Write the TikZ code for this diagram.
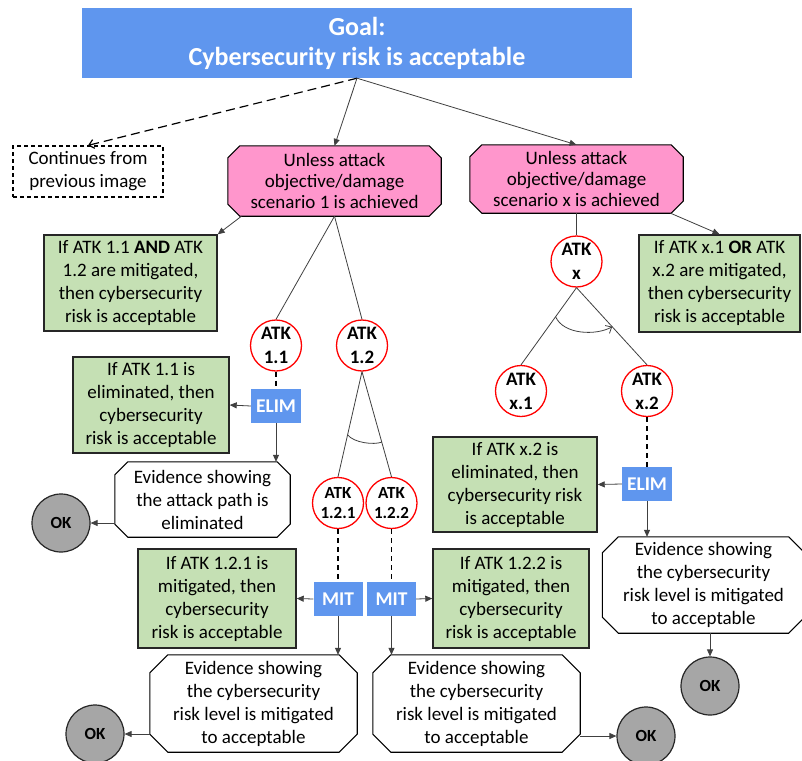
\documentclass[tikz,border=0pt]{standalone}
\usepackage{fontspec}
\setmainfont{Carlito}
\usetikzlibrary{arrows.meta,calc,backgrounds}

\definecolor{goalblue}{HTML}{5F96EE}
\definecolor{pinkfill}{HTML}{FF96CC}
\definecolor{greenfill}{HTML}{C5E0B4}
\definecolor{okgray}{HTML}{A6A6A6}
\definecolor{linegray}{HTML}{404040}

% octagon outline around a named rectangular node: [style]{node}{corner cut}
\newcommand\octframe[3][]{%
  \path[#1] ([xshift=#3]#2.north west) -- ([xshift=-#3]#2.north east)
    -- ([yshift=-#3]#2.north east) -- ([yshift=#3]#2.south east)
    -- ([xshift=-#3]#2.south east) -- ([xshift=#3]#2.south west)
    -- ([yshift=#3]#2.south west) -- ([yshift=-#3]#2.north west) -- cycle;}

\begin{document}
\begin{tikzpicture}[x=1pt,y=-1pt,
  every node/.style={inner sep=0pt, align=center, font=\fontsize{19}{23}\selectfont},
  goalbox/.style={rectangle, fill=goalblue, text=white,
    font=\bfseries\fontsize{26}{30}\selectfont, minimum width=550pt, minimum height=70pt},
  contbox/.style={rectangle, draw=black, line width=1.2pt, dash pattern=on 4pt off 3pt},
  scenario/.style={rectangle, font=\fontsize{19}{21}\selectfont},
  scenarioframe/.style={draw=black, line width=1.1pt, fill=pinkfill},
  rulebox/.style={rectangle, draw=black!85, line width=1.4pt, fill=greenfill},
  evidence/.style={rectangle},
  evidenceframe/.style={draw=black, line width=1.1pt, fill=white},
  atk/.style={circle, draw=red, line width=1.3pt, fill=white, minimum size=51pt,
    font=\bfseries\fontsize{19}{24}\selectfont},
  atksmall/.style={atk, font=\bfseries\fontsize{17}{20}\selectfont},
  tag/.style={rectangle, fill=goalblue, text=white,
    font=\bfseries\fontsize{19.5}{20}\selectfont, minimum height=34pt},
  okdot/.style={circle, draw=black!85, line width=1.2pt, fill=okgray, minimum size=58pt,
    font=\bfseries\fontsize{17}{20}\selectfont},
  link/.style={draw=linegray, line width=0.8pt},
  arr/.style={link, -{Triangle[length=7pt,width=6pt]}},
  dashlink/.style={draw=black, line width=1.2pt, dash pattern=on 5pt off 4pt},
  openarr/.style={-{Straight Barb[length=5pt,width=9pt]}}
]
\path[use as bounding box] (0,0) rectangle (802,760);

% top goal and the two scenarios
\node[goalbox] (goal) at (357,43) {Goal:\\Cybersecurity risk is acceptable};
\node[contbox, minimum width=150pt, minimum height=51pt] (cont) at (88,171.5)
  {Continues from\\previous image};
\node[scenario, minimum width=213pt, minimum height=70pt] (pink1) at (334.5,181)
  {Unless attack\\objective/damage\\scenario 1 is achieved};
\node[scenario, minimum width=213pt, minimum height=68pt] (pinkx) at (576.5,179)
  {Unless attack\\objective/damage\\scenario x is achieved};

% rule boxes
\node[rulebox, minimum width=173pt, minimum height=96pt] (green1) at (130.5,283)
  {If ATK 1.1 \textbf{AND} ATK\\1.2 are mitigated,\\then cybersecurity\\risk is acceptable};
\node[rulebox, minimum width=161pt, minimum height=97pt] (greenx) at (719.5,283.5)
  {If ATK x.1 \textbf{OR} ATK\\x.2 are mitigated,\\then cybersecurity\\risk is acceptable};
\node[rulebox, minimum width=156pt, minimum height=96pt] (green2) at (151,405)
  {If ATK 1.1 is\\eliminated, then\\cybersecurity\\risk is acceptable};
\node[rulebox, minimum width=164pt, minimum height=95pt] (greenx2) at (515,484.5)
  {If ATK x.2 is\\eliminated, then\\cybersecurity risk\\is acceptable};
\node[rulebox, minimum width=158pt, minimum height=99pt] (green121) at (217,598.5)
  {If ATK 1.2.1 is\\mitigated, then\\cybersecurity\\risk is acceptable};
\node[rulebox, minimum width=156pt, minimum height=99pt] (green122) at (511,598.5)
  {If ATK 1.2.2 is\\mitigated, then\\cybersecurity\\risk is acceptable};

% attack nodes
\node[atk] (atk11) at (276,345.5) {ATK\\1.1};
\node[atk] (atk12) at (362,345.5) {ATK\\1.2};
\node[atksmall] (atk121) at (338,503) {ATK\\1.2.1};
\node[atksmall] (atk122) at (391.5,503) {ATK\\1.2.2};
\node[atk] (atkx) at (576.5,261.5) {ATK\\x};
\node[atk] (atkx1) at (521,391) {ATK\\x.1};
\node[atk] (atkx2) at (647,391) {ATK\\x.2};

% treatment tags
\node[tag, minimum width=50pt] (elim1) at (276,406) {ELIM};
\node[tag, minimum width=50pt] (elimx) at (647,484) {ELIM};
\node[tag, minimum width=49pt] (mit1) at (338,599) {MIT};
\node[tag, minimum width=49pt] (mit2) at (391.5,599) {MIT};

% evidence boxes
\node[evidence, minimum width=175pt, minimum height=75pt] (ev1) at (202.5,499.5)
  {Evidence showing\\the attack path is\\eliminated};
\node[evidence, minimum width=202pt, minimum height=96pt] (evx) at (703.5,585)
  {Evidence showing\\the cybersecurity\\risk level is mitigated\\to acceptable};
\node[evidence, minimum width=207pt, minimum height=97pt] (ev121) at (253.5,703.5)
  {Evidence showing\\the cybersecurity\\risk level is mitigated\\to acceptable};
\node[evidence, minimum width=207pt, minimum height=97pt] (ev122) at (476.5,703.5)
  {Evidence showing\\the cybersecurity\\risk level is mitigated\\to acceptable};

% OK terminals
\node[okdot] (ok1) at (61,523) {OK};
\node[okdot] (okx) at (710,686) {OK};
\node[okdot] (ok121) at (95,734) {OK};
\node[okdot] (ok122) at (646,736) {OK};

% octagonal frames behind the scenario and evidence texts
\begin{scope}[on background layer]
  \fill[white] (0,0) rectangle (802,760);
  \octframe[scenarioframe]{pink1}{12pt}
  \octframe[scenarioframe]{pinkx}{12pt}
  \octframe[evidenceframe]{ev1}{13pt}
  \octframe[evidenceframe]{evx}{16pt}
  \octframe[evidenceframe]{ev121}{18pt}
  \octframe[evidenceframe]{ev122}{18pt}
\end{scope}

% connectors from the goal
\draw[black, line width=1.2pt, dash pattern=on 9pt off 5pt, openarr] (goal.south) -- (cont.north);
\draw[arr] (goal.south) -- (pink1.north);
\draw[arr] (goal.south) -- (pinkx.north);
\draw[arr] ([xshift=-93pt]pink1.south) -- (green1.north east);
\draw[arr] ([xshift=94pt]pinkx.south) -- (greenx.north);

% attack tree
\draw[link] (pink1.south) -- (atk11.north);
\draw[link] (pink1.south) -- (atk12.north);
\draw[link] (pinkx.south) -- (atkx.north);
\draw[link] (atk12.south) -- (atk121.north);
\draw[link] (atk12.south) -- (atk122.north);
\draw[link] (atkx.south) -- (atkx1.north);
\draw[link] (atkx.south) -- (atkx2.north);
% AND arc
\draw[link] ($(atk12.south)!0.6!(atk121.north)$) .. controls +(6,8) and +(-8,3) ..
  ($(atk12.south)!0.67!(atk122.north)$);
% OR arc
\draw[link, openarr] ($(atkx.south)!0.377!(atkx1.north)$) .. controls +(8,18) and +(-16,9) ..
  ($(atkx.south)!0.506!(atkx2.north)$);

% treatments
\draw[dashlink] (atk11.south) -- (elim1.north);
\draw[dashlink] (atkx2.south) -- (elimx.north);
\draw[dashlink] (atk121.south) -- (mit1.north);
\draw[dashlink] (atk122.south) -- (mit2.north);
\draw[arr] (elim1.west) -- (green2.east);
\draw[arr] (elimx.west) -- (greenx2.east);
\draw[arr] (mit1.west) -- (green121.east);
\draw[arr] (mit2.east) -- (green122.west);
\draw[arr] (elim1.south) -- (elim1.south |- ev1.north);
\draw[arr] (elimx.south) -- (elimx.south |- evx.north);
\draw[arr] (mit1.south) -- (mit1.south |- ev121.north);
\draw[arr] (mit2.south) -- (mit2.south |- ev122.north);

% evidence to OK
\draw[arr] (ev1.west |- ok1.east) -- (ok1.east);
\draw[arr] (okx.north |- evx.south) -- (okx.north);
\draw[arr] (ev121.west |- ok121.east) -- (ok121.east);
\draw[arr] (ev122.east |- ok122.west) -- (ok122.west);
\end{tikzpicture}
\end{document}
